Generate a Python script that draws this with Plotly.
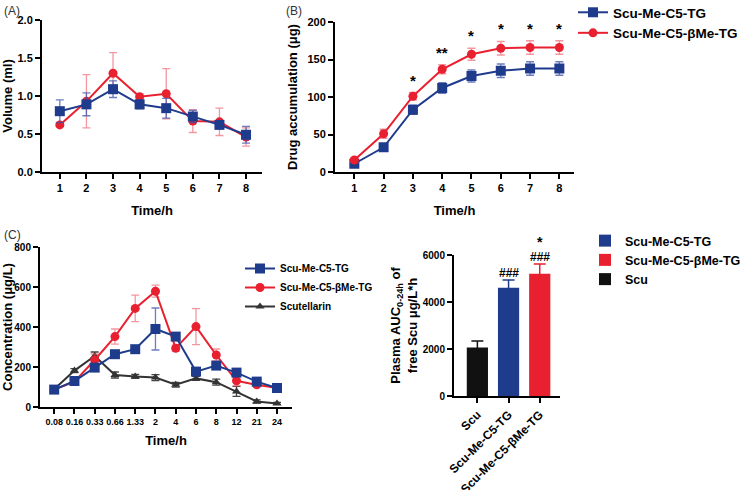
import plotly.graph_objects as go

W, H = 745, 490
FONT = "Liberation Sans"
BLUE = "#1f3b8c"
RED = "#e8202f"
BLACK = "#111111"
BLUE_E = "rgba(60,80,170,0.75)"
RED_E = "rgba(235,80,95,0.6)"

# Panel A: volume
a_time = [1, 2, 3, 4, 5, 6, 7, 8]
a_tg = [0.80, 0.89, 1.09, 0.89, 0.84, 0.73, 0.62, 0.49]
a_tg_err = [0.15, 0.15, 0.11, 0.06, 0.13, 0.08, 0.05, 0.11]
a_bme = [0.62, 0.93, 1.30, 0.99, 1.03, 0.67, 0.66, 0.46]
a_bme_err = [0.02, 0.35, 0.27, 0.04, 0.33, 0.15, 0.18, 0.12]

# Panel B: drug accumulation
b_time = [1, 2, 3, 4, 5, 6, 7, 8]
b_tg = [11, 33, 83, 112, 128, 135, 138, 138]
b_tg_err = [2, 3, 6, 7, 8, 9, 9, 9]
b_bme = [16, 51, 101, 137, 157, 165, 166, 166]
b_bme_err = [3, 6, 5, 6, 8, 9, 9, 9]
b_sig = ["", "", "*", "**", "*", "*", "*", "*"]

# Panel C: plasma concentration
c_time = ["0.08", "0.16", "0.33", "0.66", "1.33", "2", "4", "6", "8", "12", "21", "24"]
c_tg = [87, 130, 197, 264, 289, 390, 352, 177, 207, 172, 127, 95]
c_tg_err = [5, 8, 12, 10, 10, 105, 10, 10, 12, 10, 8, 6]
c_bme = [87, 127, 235, 352, 493, 579, 294, 402, 260, 131, 111, 95]
c_bme_err = [5, 15, 30, 38, 66, 30, 15, 90, 30, 25, 10, 6]
c_scu = [89, 182, 255, 160, 153, 147, 111, 143, 124, 78, 28, 18]
c_scu_err = [5, 10, 20, 15, 10, 15, 12, 10, 15, 25, 8, 5]

# Panel D: AUC bars
d_groups = ["Scu", "Scu-Me-C5-TG", "Scu-Me-C5-βMe-TG"]
d_auc = [2060, 4610, 5200]
d_auc_err = [280, 330, 420]
d_sig_hash = ["", "###", "###"]
d_sig_star = ["", "", "*"]

NAME_TG = "Scu-Me-C5-TG"
NAME_BME = "Scu-Me-C5-βMe-TG"


def px(x):
    return x / W


def py(y):
    return 1 - y / H


fig = go.Figure()


def line_trace(x, y, err, name, color, ecolor, symbol, xa, ya, legend, show, size=9):
    return go.Scatter(
        x=x, y=y, name=name, mode="lines+markers",
        line=dict(color=color, width=2),
        marker=dict(color=color, symbol=symbol, size=size),
        error_y=dict(type="data", array=err, visible=True, color=ecolor, thickness=1.3, width=4),
        xaxis=xa, yaxis=ya, legend=legend, showlegend=show,
    )


# A
fig.add_trace(line_trace(a_time, a_bme, a_bme_err, NAME_BME, RED, RED_E, "circle", "x", "y", "legend", False))
fig.add_trace(line_trace(a_time, a_tg, a_tg_err, NAME_TG, BLUE, BLUE_E, "square", "x", "y", "legend", False, 10))
# B
fig.add_trace(line_trace(b_time, b_tg, b_tg_err, NAME_TG, BLUE, BLUE_E, "square", "x2", "y2", "legend", True, 10))
fig.add_trace(line_trace(b_time, b_bme, b_bme_err, NAME_BME, RED, RED_E, "circle", "x2", "y2", "legend", True))
# C
fig.add_trace(line_trace(c_time, c_scu, c_scu_err, "Scutellarin", "#333333", "#444444", "triangle-up", "x3", "y3", "legend2", False, 8))
fig.add_trace(line_trace(c_time, c_bme, c_bme_err, NAME_BME, RED, RED_E, "circle", "x3", "y3", "legend2", False))
fig.add_trace(line_trace(c_time, c_tg, c_tg_err, NAME_TG, BLUE, BLUE_E, "square", "x3", "y3", "legend2", False, 10))
# C legend (ordered)
for nm, col, sym, sz in [(NAME_TG, BLUE, "square", 10), (NAME_BME, RED, "circle", 9), ("Scutellarin", "#333333", "triangle-up", 8)]:
    fig.add_trace(go.Scatter(x=[None], y=[None], name=nm, mode="lines+markers",
                             line=dict(color=col, width=2), marker=dict(color=col, symbol=sym, size=sz),
                             xaxis="x3", yaxis="y3", legend="legend2", showlegend=True))
# D
bar_colors = [BLACK, BLUE, RED]
for i, g in enumerate(d_groups):
    fig.add_trace(go.Bar(
        x=[g], y=[d_auc[i]], name=g, marker=dict(color=bar_colors[i], line=dict(width=0)),
        error_y=dict(type="data", array=[d_auc_err[i]], visible=True, color=bar_colors[i], thickness=1.5, width=6),
        width=0.68, xaxis="x4", yaxis="y4", legend="legend3", showlegend=False,
    ))
for nm, col in [(NAME_TG, BLUE), (NAME_BME, RED), ("Scu", BLACK)]:
    fig.add_trace(go.Bar(x=[None], y=[None], name=nm, marker=dict(color=col),
                         xaxis="x4", yaxis="y4", legend="legend3", showlegend=True))

tickfont = dict(family=FONT, size=11, color="black", weight="bold")
titlefont = dict(family=FONT, size=13, color="black", weight="bold")


def axis(**kw):
    d = dict(showline=True, linecolor="black", linewidth=2, ticks="outside", ticklen=5,
             tickwidth=1.5, tickcolor="black", showgrid=False, zeroline=False,
             tickfont=tickfont, fixedrange=True, automargin=False)
    d.update(kw)
    return d


fig.update_layout(
    template="none",
    width=W, height=H, margin=dict(l=0, r=0, t=0, b=0, autoexpand=False),
    paper_bgcolor="white", plot_bgcolor="white",
    font=dict(family=FONT, color="black"),
    barmode="overlay",
    xaxis=axis(domain=[px(42), px(262)], range=[0.33, 8.6], tickvals=a_time,
               title=dict(text="Time/h", font=titlefont, standoff=13), anchor="y"),
    yaxis=axis(domain=[py(172), py(20)], range=[0, 2], tickvals=[0, 0.5, 1.0, 1.5, 2.0],
               ticktext=["0.0", "0.5", "1.0", "1.5", "2.0"],
               title=dict(text="Volume (ml)", font=titlefont, standoff=6), anchor="x"),
    xaxis2=axis(domain=[px(335), px(574)], range=[0.34, 8.5], tickvals=b_time,
                title=dict(text="Time/h", font=titlefont, standoff=13), anchor="y2"),
    yaxis2=axis(domain=[py(172), py(22)], range=[0, 200], tickvals=[0, 50, 100, 150, 200],
                title=dict(text="Drug accumulation (μg)", font=titlefont, standoff=7), anchor="x2"),
    xaxis3=axis(domain=[px(40), px(292)], type="category", range=[-0.7, 11.74], tickangle=0,
                categoryorder="array", categoryarray=c_time,
                tickfont=dict(family=FONT, size=9, color="black", weight="bold"),
                title=dict(text="Time/h", font=titlefont, standoff=10), anchor="y3"),
    yaxis3=axis(domain=[py(407), py(247)], range=[0, 800], tickvals=[0, 200, 400, 600, 800],
                tickfont=dict(family=FONT, size=10, color="black", weight="bold"),
                title=dict(text="Concentration (μg/L)", font=titlefont, standoff=6), anchor="x3"),
    xaxis4=axis(domain=[px(454), px(560)], type="category", range=[-0.75, 2.65],
                categoryorder="array", categoryarray=d_groups, tickangle=-45, anchor="y4",
                tickfont=dict(family=FONT, size=12, color="black", weight="bold")),
    yaxis4=axis(domain=[py(396), py(255)], range=[0, 6000], tickvals=[0, 2000, 4000, 6000],
                tickfont=dict(family=FONT, size=10, color="black", weight="bold"),
                title=dict(text="Plasma AUC<sub>0-24h</sub> of<br>free Scu μg/L*h", font=titlefont, standoff=2),
                anchor="x4"),
    legend=dict(x=px(573), y=py(-3), xanchor="left", yanchor="top", bgcolor="rgba(0,0,0,0)",
                font=dict(family=FONT, size=13.5, color="black", weight="bold"), tracegroupgap=0,
                itemwidth=30),
    legend2=dict(x=px(240), y=py(254), xanchor="left", yanchor="top", bgcolor="rgba(0,0,0,0)",
                 font=dict(family=FONT, size=10, color="black", weight="bold"), itemwidth=30),
    legend3=dict(x=px(585), y=py(226), xanchor="left", yanchor="top", bgcolor="rgba(0,0,0,0)",
                 font=dict(family=FONT, size=12.5, color="black", weight="bold"), itemwidth=30),
)

annotations = []
# panel labels
for txt, lx, ly in [("(A)", 2, 2), ("(B)", 284, 2), ("(C)", 2, 226)]:
    annotations.append(dict(text=txt, x=px(lx), y=py(ly), xref="paper", yref="paper",
                            xanchor="left", yanchor="top", showarrow=False,
                            font=dict(family=FONT, size=12, color="#333333")))
# B significance
for t, v, e, s in zip(b_time, b_bme, b_bme_err, b_sig):
    if s:
        annotations.append(dict(text=s, x=t, y=v + e, xref="x2", yref="y2", yanchor="bottom",
                                yshift=2, showarrow=False,
                                font=dict(family=FONT, size=15, color="black", weight="bold")))
# D significance
for g, v, e, s in zip(d_groups, d_auc, d_auc_err, d_sig_hash):
    if s:
        annotations.append(dict(text=s, x=g, y=v + e, xref="x4", yref="y4", yanchor="bottom",
                                yshift=-2, showarrow=False,
                                font=dict(family=FONT, size=12, color="black", weight="bold")))
for g, v, e, s in zip(d_groups, d_auc, d_auc_err, d_sig_star):
    if s:
        annotations.append(dict(text=s, x=g, y=v + e, xref="x4", yref="y4", yanchor="bottom",
                                yshift=12, showarrow=False,
                                font=dict(family=FONT, size=14, color="black", weight="bold")))
fig.update_layout(annotations=annotations)

# remove the default page margin so the figure sits at the window's top-left corner
fig.write_html("out.html", config={"displayModeBar": False},
               post_script="document.body.style.margin='0';document.body.style.overflow='hidden';")
